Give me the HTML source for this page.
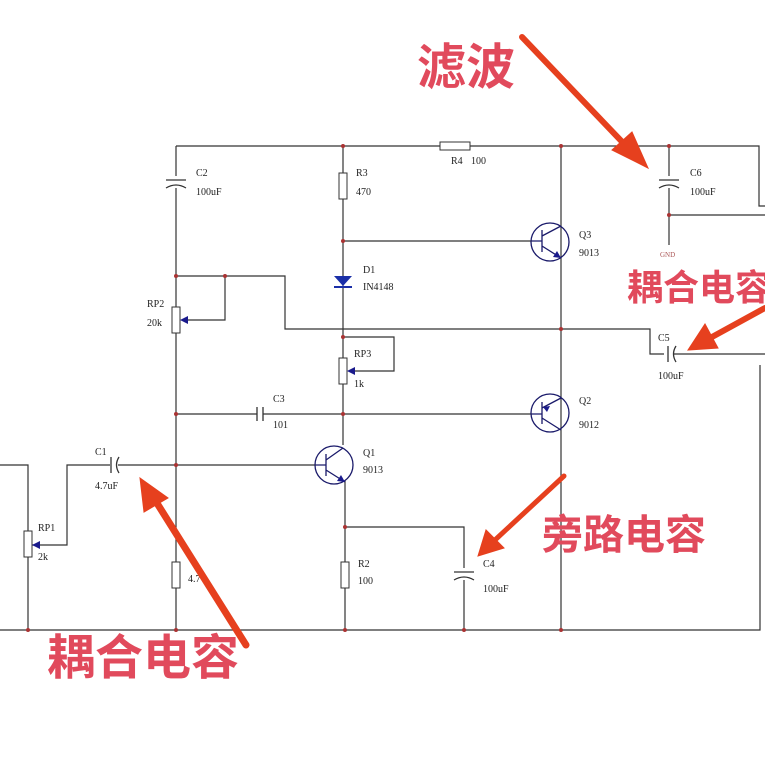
<!DOCTYPE html>
<html><head><meta charset="utf-8"><style>
html,body{margin:0;padding:0;background:#fff;}
svg{display:block;}
.w{stroke:#333;stroke-width:1.2;fill:none;}
.t{font-family:"Liberation Serif",serif;font-size:10px;fill:#222;}
.cn{font-family:"Liberation Sans","Noto Sans CJK SC",sans-serif;fill:#e14a5c;font-weight:bold;}
.d{fill:#a33;}
</style></head><body>
<svg width="765" height="764" viewBox="0 0 765 764" xmlns="http://www.w3.org/2000/svg">
<rect width="765" height="764" fill="#fff"/>
<g class="w">
<path d="M176 146 H440 M470 146 H759 V206 H765"/>
<path d="M669 146 V215 H765 M669 215 V245"/>
<path d="M176 146 V630"/>
<path d="M343 146 V445"/>
<path d="M343 241 H532"/>
<path d="M561 146 V630"/>
<path d="M176 276 H285 V329 H650 V354 H664 M674 354 H765"/>
<path d="M225 276 V320 H182"/>
<path d="M343 337 H394 V371 H349"/>
<path d="M176 414 H257 M263 414 H532"/>
<path d="M0 465 H28 V630 M28 545 H67 V465 H110 M118 465 H316"/>
<path d="M345 480 V630 M345 527 H464 V630"/>
<path d="M0 630 H760 V365"/>
</g>
<g fill="#fff" stroke="#333" stroke-width="1">
<rect x="339" y="173" width="8" height="26"/>
<rect x="440" y="142" width="30" height="8"/>
<rect x="172" y="307" width="8" height="26"/>
<rect x="339" y="358" width="8" height="26"/>
<rect x="24" y="531" width="8" height="26"/>
<rect x="172" y="562" width="8" height="26"/>
<rect x="341" y="562" width="8" height="26"/>
</g>
<g stroke="#333" stroke-width="1.3" fill="none">
<rect x="166" y="176" width="20" height="12" fill="#fff" stroke="none"/>
<path d="M166 180 H186 M166 188 Q176 182 186 188"/>
<rect x="659" y="176" width="20" height="12" fill="#fff" stroke="none"/>
<path d="M659 180 H679 M659 188 Q669 182 679 188"/>
<rect x="454" y="568" width="20" height="12" fill="#fff" stroke="none"/>
<path d="M454 572 H474 M454 580 Q464 574 474 580"/>
<path d="M257 407 V421 M263 407 V421"/>
<path d="M111 457 V473 M119 457 Q114 465 119 473"/>
<path d="M668 346 V362 M676 346 Q671 354 676 362"/>
</g>
<g fill="#1a1a8c">
<path d="M180 320 l8 -4 v8 z"/><path d="M347 371 l8 -4 v8 z"/><path d="M32 545 l8 -4 v8 z"/>
</g>
<path d="M334 276 H352 L343 286 Z" fill="#1a2fa8"/><path d="M334 287 H352" stroke="#1a2fa8" stroke-width="2"/>
<g stroke="#1a1a6a" stroke-width="1.3" fill="none">
<circle cx="550" cy="242" r="19"/><path d="M532 241 H542 M542 230 V252 M542 236 L561 226 M542 246 L561 258"/>
<circle cx="550" cy="413" r="19"/><path d="M532 414 H542 M542 402 V424 M542 408 L561 398 M542 418 L561 430"/>
<circle cx="334" cy="465" r="19"/><path d="M316 465 H326 M326 454 V476 M326 460 L343 448 M326 470 L345 482"/>
</g>
<g fill="#1a1a8c"><path d="M561 258 l-8 -1 l4 -6z"/><path d="M543 407 l7 -1 l-3 6z"/><path d="M345 482 l-8 -1 l4 -6z"/></g>
<g class="d">
<circle cx="343" cy="146" r="2"/><circle cx="561" cy="146" r="2"/><circle cx="669" cy="146" r="2"/><circle cx="669" cy="215" r="2"/>
<circle cx="343" cy="241" r="2"/><circle cx="176" cy="276" r="2"/><circle cx="225" cy="276" r="2"/><circle cx="343" cy="337" r="2"/>
<circle cx="561" cy="329" r="2"/><circle cx="176" cy="414" r="2"/><circle cx="343" cy="414" r="2"/><circle cx="176" cy="465" r="2"/>
<circle cx="345" cy="527" r="2"/><circle cx="28" cy="630" r="2"/><circle cx="176" cy="630" r="2"/><circle cx="345" cy="630" r="2"/>
<circle cx="464" cy="630" r="2"/><circle cx="561" cy="630" r="2"/>
</g>
<g class="t">
<text x="196" y="176">C2</text><text x="196" y="195">100uF</text>
<text x="356" y="176">R3</text><text x="356" y="195">470</text>
<text x="451" y="164">R4</text><text x="471" y="164">100</text>
<text x="690" y="176">C6</text><text x="690" y="195">100uF</text>
<text x="660" y="257" style="font-size:7px;fill:#a55">GND</text>
<text x="579" y="238">Q3</text><text x="579" y="256">9013</text>
<text x="363" y="273">D1</text><text x="363" y="290">IN4148</text>
<text x="147" y="307">RP2</text><text x="147" y="326">20k</text>
<text x="354" y="357">RP3</text><text x="354" y="387">1k</text>
<text x="658" y="341">C5</text><text x="658" y="379">100uF</text>
<text x="273" y="402">C3</text><text x="273" y="428">101</text>
<text x="579" y="404">Q2</text><text x="579" y="428">9012</text>
<text x="95" y="455">C1</text><text x="95" y="489">4.7uF</text>
<text x="363" y="456">Q1</text><text x="363" y="473">9013</text>
<text x="38" y="531">RP1</text><text x="38" y="560">2k</text>
<text x="358" y="567">R2</text><text x="358" y="584">100</text>
<text x="483" y="567">C4</text><text x="483" y="592">100uF</text>
<text x="188" y="582">4.7</text>
</g>
<g class="cn">
<text x="417" y="84" font-size="49">滤波</text>
<text x="627" y="300" font-size="36">耦合电容</text>
<text x="542" y="549" font-size="41">旁路电容</text>
<text x="47" y="674" font-size="48">耦合电容</text>
</g>
<g fill="#e6401e" stroke="#e6401e" stroke-linecap="round">
<line x1="522" y1="37" x2="628" y2="148" stroke-width="6"/><path d="M648 168 L612 150 L632 132 Z"/>
<line x1="765" y1="308" x2="712" y2="337" stroke-width="6"/><path d="M688 350 L705 324 L718 348 Z"/>
<line x1="564" y1="476" x2="495" y2="540" stroke-width="5"/><path d="M478 556 L486 530 L504 548 Z"/>
<line x1="246" y1="645" x2="155" y2="500" stroke-width="7"/><path d="M140 478 L168 498 L144 512 Z"/>
</g>
</svg>
</body></html>
